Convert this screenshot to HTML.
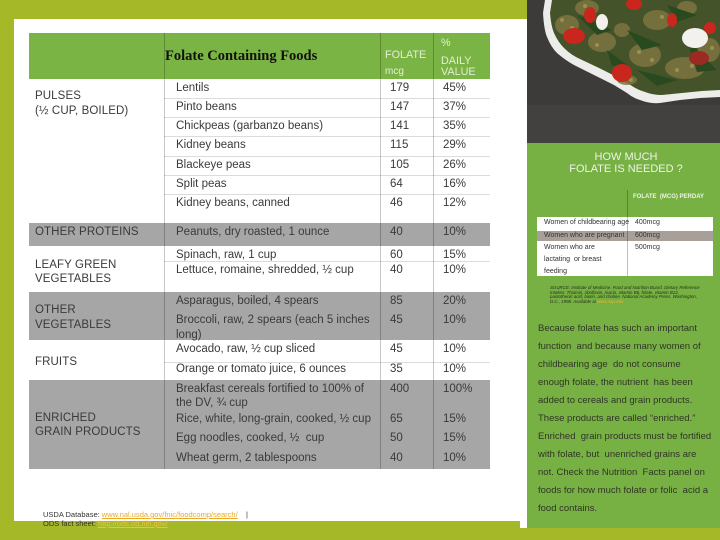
<!DOCTYPE html>
<html><head><meta charset="utf-8">
<style>
*{margin:0;padding:0;box-sizing:border-box}
body{width:720px;height:540px;overflow:hidden;background:#a5b827;position:relative;font-family:"Liberation Sans",sans-serif;color:#3a3a3a}
.a{position:absolute;white-space:nowrap}
.t{font-size:11.5px;line-height:14px;color:#3a3a3a}
.l{left:35px;letter-spacing:0.1px}
.f{left:176px}
.v{left:390px}
.p{left:443px}
.hl{position:absolute;left:164px;width:326px;height:1px;background:#dcdcdc}
.vl{position:absolute;top:33px;height:436px;width:1px;background:rgba(0,0,0,0.22)}
.g{position:absolute;left:29px;width:461px;background:#a6a6a6}
.m{font-size:7px;line-height:9px;color:#333}
.s{font-size:4.4px;line-height:4.7px;font-style:italic;color:#24301a;left:550px}
.pp{font-size:9.5px;line-height:12px;color:#2f3527;left:538px}
</style></head><body>

<!-- white panel -->
<div class="a" style="left:14px;top:19px;width:513px;height:502px;background:#fff"></div>
<div class="a" style="left:520px;top:515px;width:7px;height:13px;background:#fff"></div>

<!-- table header -->
<div class="a" style="left:29px;top:33px;width:461px;height:46px;background:#7ab444"></div>
<!-- gray bands -->
<div class="g" style="top:223px;height:23px"></div>
<div class="g" style="top:292px;height:48px"></div>
<div class="g" style="top:380px;height:89px"></div>

<!-- row lines -->
<div class="hl" style="top:98px"></div>
<div class="hl" style="top:117px"></div>
<div class="hl" style="top:136px"></div>
<div class="hl" style="top:156px"></div>
<div class="hl" style="top:175px"></div>
<div class="hl" style="top:194px"></div>
<div class="hl" style="top:261px"></div>
<div class="hl" style="top:362px"></div>

<!-- column lines -->
<div class="vl" style="left:164px"></div>
<div class="vl" style="left:380px"></div>
<div class="vl" style="left:433px"></div>

<!-- header text -->
<div class="a" style="left:165px;top:47px;font-family:'Liberation Serif',serif;font-weight:bold;font-size:14.5px;line-height:18px;color:#111">Folate Containing Foods</div>
<div class="a" style="left:385px;top:49px;font-size:10.8px;line-height:13px;color:#e2efd6">FOLATE</div>
<div class="a" style="left:385px;top:66px;font-size:10px;line-height:12px;color:#e2efd6">mcg</div>
<div class="a" style="left:441px;top:38px;font-size:10.8px;line-height:11px;color:#e2efd6">%</div>
<div class="a" style="left:441px;top:56px;font-size:10.8px;line-height:11px;color:#e2efd6">DAILY</div>
<div class="a" style="left:441px;top:67px;font-size:10.8px;line-height:11px;color:#e2efd6">VALUE</div>

<!-- left labels -->
<div class="a t l" style="top:89px">PULSES</div>
<div class="a t l" style="top:104px">(½ CUP, BOILED)</div>
<div class="a t l" style="top:225px">OTHER PROTEINS</div>
<div class="a t l" style="top:258px">LEAFY GREEN</div>
<div class="a t l" style="top:272px">VEGETABLES</div>
<div class="a t l" style="top:303px">OTHER</div>
<div class="a t l" style="top:318px">VEGETABLES</div>
<div class="a t l" style="top:355px">FRUITS</div>
<div class="a t l" style="top:411px">ENRICHED</div>
<div class="a t l" style="top:425px">GRAIN PRODUCTS</div>

<!-- foods -->
<div class="a t f" style="top:81px">Lentils</div>
<div class="a t f" style="top:100px">Pinto beans</div>
<div class="a t f" style="top:119px">Chickpeas (garbanzo beans)</div>
<div class="a t f" style="top:138px">Kidney beans</div>
<div class="a t f" style="top:158px">Blackeye peas</div>
<div class="a t f" style="top:177px">Split peas</div>
<div class="a t f" style="top:196px">Kidney beans, canned</div>
<div class="a t f" style="top:225px">Peanuts, dry roasted, 1 ounce</div>
<div class="a t f" style="top:248px">Spinach, raw, 1 cup</div>
<div class="a t f" style="top:263px">Lettuce, romaine, shredded, ½ cup</div>
<div class="a t f" style="top:294px">Asparagus, boiled, 4 spears</div>
<div class="a t f" style="top:313px">Broccoli, raw, 2 spears (each 5 inches</div>
<div class="a t f" style="top:328px">long)</div>
<div class="a t f" style="top:342px">Avocado, raw, ½ cup sliced</div>
<div class="a t f" style="top:362px">Orange or tomato juice, 6 ounces</div>
<div class="a t f" style="top:382px">Breakfast cereals fortified to 100% of</div>
<div class="a t f" style="top:396px">the DV, ¾ cup</div>
<div class="a t f" style="top:412px">Rice, white, long-grain, cooked, ½ cup</div>
<div class="a t f" style="top:431px">Egg noodles, cooked, ½&nbsp; cup</div>
<div class="a t f" style="top:451px">Wheat germ, 2 tablespoons</div>

<!-- values -->
<div class="a t v" style="top:81px">179</div><div class="a t p" style="top:81px">45%</div>
<div class="a t v" style="top:100px">147</div><div class="a t p" style="top:100px">37%</div>
<div class="a t v" style="top:119px">141</div><div class="a t p" style="top:119px">35%</div>
<div class="a t v" style="top:138px">115</div><div class="a t p" style="top:138px">29%</div>
<div class="a t v" style="top:158px">105</div><div class="a t p" style="top:158px">26%</div>
<div class="a t v" style="top:177px">64</div><div class="a t p" style="top:177px">16%</div>
<div class="a t v" style="top:196px">46</div><div class="a t p" style="top:196px">12%</div>
<div class="a t v" style="top:225px">40</div><div class="a t p" style="top:225px">10%</div>
<div class="a t v" style="top:248px">60</div><div class="a t p" style="top:248px">15%</div>
<div class="a t v" style="top:263px">40</div><div class="a t p" style="top:263px">10%</div>
<div class="a t v" style="top:294px">85</div><div class="a t p" style="top:294px">20%</div>
<div class="a t v" style="top:313px">45</div><div class="a t p" style="top:313px">10%</div>
<div class="a t v" style="top:342px">45</div><div class="a t p" style="top:342px">10%</div>
<div class="a t v" style="top:362px">35</div><div class="a t p" style="top:362px">10%</div>
<div class="a t v" style="top:382px">400</div><div class="a t p" style="top:382px">100%</div>
<div class="a t v" style="top:412px">65</div><div class="a t p" style="top:412px">15%</div>
<div class="a t v" style="top:431px">50</div><div class="a t p" style="top:431px">15%</div>
<div class="a t v" style="top:451px">40</div><div class="a t p" style="top:451px">10%</div>

<!-- footer -->
<div class="a" style="left:43px;top:510px;font-size:7.5px;line-height:9px;color:#333">USDA Database: <span style="color:#e9a825;text-decoration:underline">www.nal.usda.gov/fnic/foodcomp/search/</span>&nbsp;&nbsp;&nbsp; |</div>
<div class="a" style="left:43px;top:519px;font-size:7.5px;line-height:9px;color:#333">ODS fact sheet: <span style="color:#f0c040;text-decoration:underline">http://ods.od.nih.gov/</span></div>

<!-- photo -->
<svg class="a" style="left:527px;top:0" width="193" height="143" viewBox="0 0 193 143">
<rect width="193" height="143" fill="#3c3b3a"/>
<rect y="105" width="193" height="38" fill="#42413f"/>
<path d="M18 0 L16 13 Q17 30 20 37 Q24 47 30 53 Q38 60 47 65 L67 75 L87 85 L100 93 Q106 98 113 100 Q123 104 133 103 L153 100 L173 98 L193 97 L193 0 Z" fill="#ecedeb"/>
<path d="M25 0 L23 13 Q24 26 27 33 Q31 42 37 48 Q44 55 53 59 L72 68 L92 78 L105 86 Q111 90 118 92 Q126 95 135 95 L155 93 L175 91 L193 90 L193 0 Z" fill="#45532b"/>
<g fill="#7d7440" opacity="0.85">
<ellipse cx="40" cy="25" rx="12" ry="10"/>
<ellipse cx="75" cy="42" rx="14" ry="10"/>
<ellipse cx="118" cy="55" rx="16" ry="12"/>
<ellipse cx="158" cy="68" rx="20" ry="11"/>
<ellipse cx="60" cy="8" rx="12" ry="8"/>
<ellipse cx="130" cy="20" rx="14" ry="10"/>
<ellipse cx="182" cy="50" rx="11" ry="12"/>
<ellipse cx="100" cy="80" rx="10" ry="5"/>
<ellipse cx="95" cy="30" rx="8" ry="7"/>
<ellipse cx="160" cy="8" rx="10" ry="7"/>
</g>
<g fill="#29491f">
<path d="M50 15 L85 30 L70 35 Z"/>
<path d="M100 30 L135 45 L115 50 Z"/>
<path d="M140 5 L170 15 L150 22 Z"/>
<path d="M110 70 L150 80 L130 86 Z"/>
<path d="M160 40 L190 70 L170 72 Z"/>
<path d="M80 50 L100 65 L85 66 Z"/>
</g>
<g fill="#9a9050">
<circle cx="35" cy="20" r="2"/><circle cx="45" cy="28" r="2"/><circle cx="70" cy="45" r="2"/>
<circle cx="112" cy="52" r="2"/><circle cx="125" cy="60" r="2"/><circle cx="150" cy="70" r="2"/>
<circle cx="165" cy="66" r="2"/><circle cx="135" cy="17" r="2"/><circle cx="185" cy="48" r="2"/>
<circle cx="58" cy="6" r="2"/><circle cx="104" cy="80" r="2"/>
</g>
<g fill="#c9261d">
<ellipse cx="47" cy="36" rx="11" ry="8"/>
<ellipse cx="95" cy="73" rx="10" ry="9"/>
<ellipse cx="107" cy="4" rx="8" ry="6"/>
<ellipse cx="63" cy="15" rx="6" ry="8"/>
<ellipse cx="145" cy="20" rx="5" ry="7"/>
<ellipse cx="172" cy="58" rx="10" ry="7" fill="#9a2a22"/>
<ellipse cx="183" cy="28" rx="6" ry="6"/>
</g>
<g fill="#f3f1ee">
<ellipse cx="75" cy="22" rx="6" ry="8"/>
<ellipse cx="168" cy="38" rx="13" ry="10"/>
</g>
</svg>

<!-- right green panel -->
<div class="a" style="left:527px;top:143px;width:193px;height:385px;background:#77b143"></div>
<div class="a" style="left:527px;top:151px;width:198px;text-align:center;font-size:11px;line-height:12px;color:#eef3e8">HOW MUCH<br>FOLATE IS NEEDED ?</div>
<div class="a" style="left:633px;top:193px;font-size:6px;line-height:8px;font-weight:bold;color:#eef3e6">FOLATE&nbsp; (MCG) PERDAY</div>
<div class="a" style="left:537px;top:217px;width:176px;height:59px;background:#fff"></div>
<div class="a" style="left:537px;top:231px;width:176px;height:10px;background:#a89f98"></div>
<div class="a" style="left:627px;top:190px;width:1px;height:86px;background:rgba(0,0,0,0.25)"></div>
<div class="a m" style="left:544px;top:218px">Women of childbearing age</div>
<div class="a m" style="left:635px;top:218px">400mcg</div>
<div class="a m" style="left:544px;top:231px">Women who are pregnant</div>
<div class="a m" style="left:635px;top:231px">600mcg</div>
<div class="a m" style="left:544px;top:243px">Women who are</div>
<div class="a m" style="left:635px;top:243px">500mcg</div>
<div class="a m" style="left:544px;top:255px">lactating&nbsp; or breast</div>
<div class="a m" style="left:544px;top:267px">feeding</div>

<div class="a s" style="top:286px">SOURCE: Institute of Medicine. Food and Nutrition Board. Dietary Reference</div>
<div class="a s" style="top:290.7px">Intakes: Thiamin, riboflavin, niacin, vitamin B6, folate, vitamin B12,</div>
<div class="a s" style="top:295.4px">pantothenic acid, biotin, and choline. National Academy Press. Washington,</div>
<div class="a s" style="top:300.1px">D.C., 1998. Available at <span style="color:#f0b030">www.nap.edu</span></div>

<div class="a pp" style="top:323px">Because folate has such an important</div>
<div class="a pp" style="top:341px">function&nbsp; and because many women of</div>
<div class="a pp" style="top:359px">childbearing age&nbsp; do not consume</div>
<div class="a pp" style="top:377px">enough folate, the nutrient&nbsp; has been</div>
<div class="a pp" style="top:395px">added to cereals and grain products.</div>
<div class="a pp" style="top:413px">These products are called “enriched.”</div>
<div class="a pp" style="top:431px">Enriched&nbsp; grain products must be fortified</div>
<div class="a pp" style="top:449px">with folate, but&nbsp; unenriched grains are</div>
<div class="a pp" style="top:467px">not. Check the Nutrition&nbsp; Facts panel on</div>
<div class="a pp" style="top:485px">foods for how much folate or folic&nbsp; acid a</div>
<div class="a pp" style="top:503px">food contains.</div>

</body></html>
